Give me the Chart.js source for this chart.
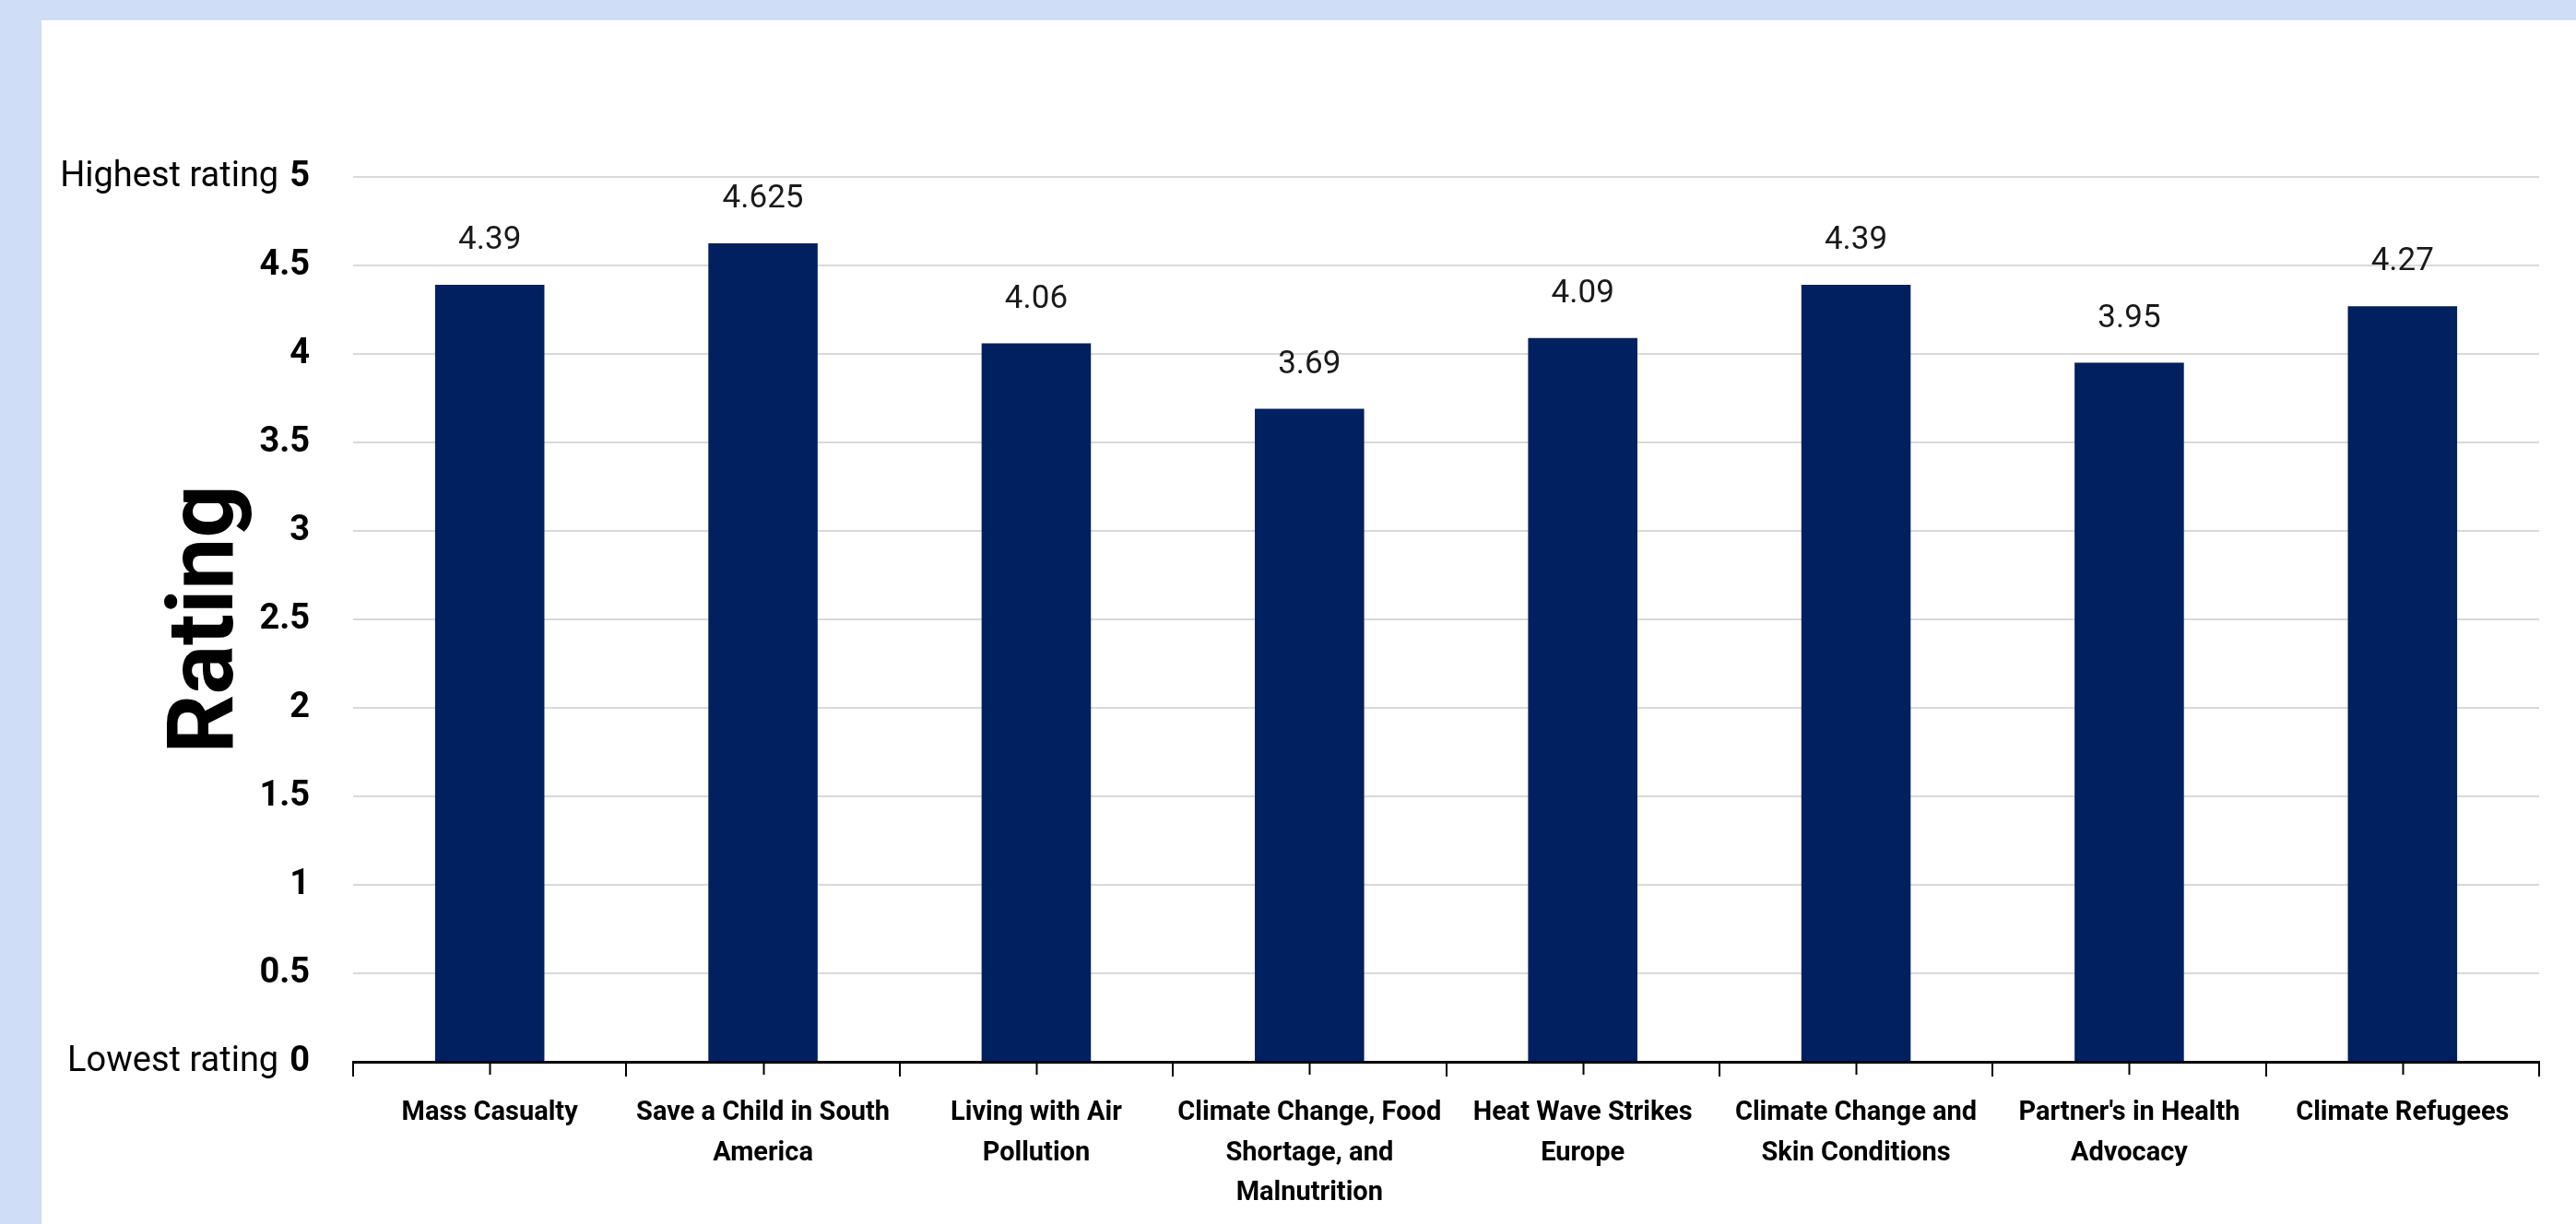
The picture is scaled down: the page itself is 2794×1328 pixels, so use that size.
<!DOCTYPE html>
<html>
<head>
<meta charset="utf-8">
<script src="https://cdn.jsdelivr.net/npm/chart.js@4.4.1/dist/chart.umd.min.js"></script>
<style>
  html, body { margin: 0; padding: 0; background: #cfddf6; }
  #panel { position: absolute; left: 45px; top: 22px; width: 2749px; height: 1306px; background: #fff; }
</style>
</head>
<body>
<div id="panel"><canvas id="myChart"></canvas></div>
<script>
const categories = [
  ["Mass Casualty"],
  ["Save a Child in South", "America"],
  ["Living with Air", "Pollution"],
  ["Climate Change, Food", "Shortage, and", "Malnutrition"],
  ["Heat Wave Strikes", "Europe"],
  ["Climate Change and", "Skin Conditions"],
  ["Partner's in Health", "Advocacy"],
  ["Climate Refugees"],
];
const ratings = [4.39, 4.625, 4.06, 3.69, 4.09, 4.39, 3.95, 4.27];
const yMin = 0;
const yMax = 5;
const yStep = 0.5;
const endNotes = [
  { value: 5, text: "Highest rating" },
  { value: 0, text: "Lowest rating" },
];

const FONT = "Roboto, 'Noto Sans', sans-serif";
const Y_TICK_PAD = 47;

// numbers above the bars
const valueLabels = {
  id: "valueLabels",
  afterDatasetsDraw(chart) {
    const ctx = chart.ctx;
    const meta = chart.getDatasetMeta(0);
    ctx.save();
    ctx.font = "35px " + FONT;
    ctx.fillStyle = "#1a1a1a";
    ctx.textAlign = "center";
    ctx.textBaseline = "bottom";
    meta.data.forEach((bar, i) => {
      ctx.fillText(String(ratings[i]), bar.x, bar.y - 30);
    });
    ctx.restore();
  },
};

// "Highest rating" / "Lowest rating" next to the end ticks, plus centre tick marks
const axisExtras = {
  id: "axisExtras",
  afterDraw(chart) {
    const ctx = chart.ctx;
    const y = chart.scales.y;
    const x = chart.scales.x;
    ctx.save();
    endNotes.forEach((note) => {
      const py = y.getPixelForValue(note.value);
      ctx.font = "bold 38px " + FONT;
      const w = ctx.measureText(String(note.value)).width;
      ctx.font = "38px " + FONT;
      ctx.fillStyle = "#000";
      ctx.textAlign = "right";
      ctx.textBaseline = "middle";
      ctx.fillText(note.text, y.right - Y_TICK_PAD - w - 12, py);
    });
    ctx.strokeStyle = "#000";
    ctx.lineWidth = 2;
    ctx.beginPath();
    categories.forEach((c, i) => {
      const px = Math.round(x.getPixelForValue(i)) + 0.5;
      ctx.moveTo(px, x.top);
      ctx.lineTo(px, x.top + 14);
    });
    ctx.stroke();
    ctx.restore();
  },
};

const ctx = document.getElementById("myChart");

const myChart = new Chart(ctx, {
  type: "bar",
  data: {
    labels: categories,
    datasets: [
      {
        label: "Rating",
        data: ratings,
        backgroundColor: "#002060",
        barPercentage: 0.4,
        categoryPercentage: 1.0,
      },
    ],
  },
  plugins: [valueLabels, axisExtras],
  options: {
    responsive: true,
    maintainAspectRatio: false,
    animation: false,
    devicePixelRatio: 1,
    layout: {
      padding: { top: 170, right: 40, left: 0, bottom: 0 },
    },
    plugins: {
      legend: { display: false },
      tooltip: { enabled: false },
    },
    scales: {
      x: {
        grid: {
          display: true,
          drawOnChartArea: false,
          offset: true,
          color: "#000",
          lineWidth: 2,
          tickLength: 16,
        },
        border: { display: true, color: "#000", width: 3 },
        ticks: {
          color: "#000",
          font: { family: FONT, weight: "bold", size: 29, lineHeight: 1.5 },
          maxRotation: 0,
          minRotation: 0,
          autoSkip: false,
          padding: 18,
        },
        afterFit(scale) {
          scale.height = 176;
        },
      },
      y: {
        min: yMin,
        max: yMax,
        ticks: {
          stepSize: yStep,
          color: "#000",
          font: { family: FONT, weight: "bold", size: 38 },
          padding: Y_TICK_PAD,
          callback: (v) => String(Number(v)),
        },
        grid: {
          color: (c) => (c.tick && c.tick.value === 0 ? "rgba(0,0,0,0)" : "#d9d9d9"),
          lineWidth: 2,
          drawTicks: false,
        },
        border: { display: false },
        title: {
          display: true,
          text: "Rating",
          color: "#000",
          font: { family: FONT, weight: "bold", size: 100, lineHeight: 1 },
          padding: { top: 132, bottom: 6 },
        },
        afterFit(scale) {
          scale.width = 338;
        },
      },
    },
  },
});
</script>
</body>
</html>
